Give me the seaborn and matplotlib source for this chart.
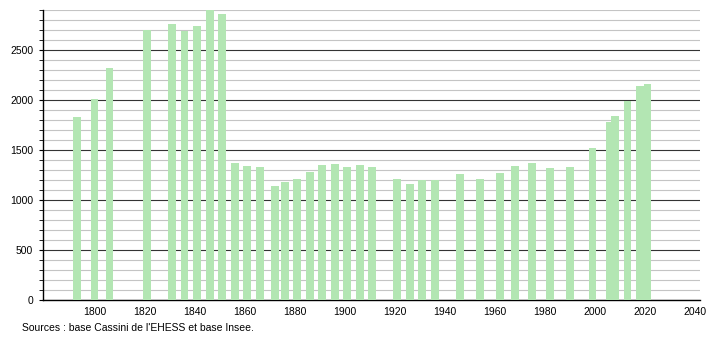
import matplotlib
matplotlib.use("Agg")
import matplotlib.pyplot as plt
from matplotlib.ticker import MultipleLocator
import seaborn as sns
import pandas as pd

years = [1793, 1800, 1806, 1821, 1831, 1836, 1841, 1846, 1851, 1856, 1861, 1866,
         1872, 1876, 1881, 1886, 1891, 1896, 1901, 1906, 1911, 1921, 1926, 1931,
         1936, 1946, 1954, 1962, 1968, 1975, 1982, 1990, 1999, 2006, 2008, 2013,
         2018, 2021]
population = [1827, 2010, 2320, 2697, 2760, 2693, 2740, 2900, 2860, 1370, 1343, 1333,
              1140, 1180, 1210, 1283, 1350, 1360, 1330, 1350, 1330, 1210, 1163, 1200,
              1197, 1260, 1210, 1270, 1340, 1370, 1320, 1330, 1520, 1777, 1840, 1990,
              2140, 2160]
x_ticks = [1800, 1820, 1840, 1860, 1880, 1900, 1920, 1940, 1960, 1980, 2000, 2020, 2040]
y_ticks = [0, 500, 1000, 1500, 2000, 2500]
source = "Sources : base Cassini de l'EHESS et base Insee."

df = pd.DataFrame({"year": years, "pop": population})

sns.set_style("white")
plt.rcParams["font.family"] = ["Liberation Sans", "DejaVu Sans"]
plt.rcParams["text.color"] = "black"
plt.rcParams["xtick.color"] = "black"
plt.rcParams["ytick.color"] = "black"

fig = plt.figure(figsize=(7.1, 3.4), dpi=100)
ax = fig.add_axes([43 / 710, 1 - 300 / 340, (700 - 43) / 710, 290 / 340])

sns.barplot(data=df, x="year", y="pop", native_scale=True, width=1.55,
            color="#b3e6b3", saturation=1, errorbar=None, orient="x", ax=ax,
            linewidth=0, zorder=3)

ax.set_xlim(1779.4, 2042)
ax.set_ylim(0, 2900)
ax.set_xticks(x_ticks)
ax.set_xticklabels([str(t) for t in x_ticks])
ax.set_yticks(y_ticks)
ax.set_yticklabels([str(t) for t in y_ticks])
ax.yaxis.set_minor_locator(MultipleLocator(100))
ax.set_axisbelow(True)
ax.grid(False)
ax.yaxis.grid(True, which="minor", color="#c4c4c4", linewidth=0.8, zorder=0)
ax.yaxis.grid(True, which="major", color="#333333", linewidth=0.8, zorder=1)
ax.set_xlabel("")
ax.set_ylabel("")

for s in ["top", "right"]:
    ax.spines[s].set_visible(False)
for s in ["left", "bottom"]:
    ax.spines[s].set_visible(True)
    ax.spines[s].set_color("black")
    ax.spines[s].set_linewidth(1)

ax.tick_params(axis="x", length=0, labelsize=7.5, pad=5, labelcolor="black")
ax.tick_params(axis="y", which="major", length=3, direction="out", left=True,
               labelsize=7.5, pad=4, color="black", labelcolor="black")
ax.tick_params(axis="y", which="minor", length=3, direction="out", left=True,
               color="black")

fig.text(22 / 710, 1 - 328 / 340, source, fontsize=7.5, va="center", ha="left",
         color="black")

fig.savefig("out.png", dpi=100)
